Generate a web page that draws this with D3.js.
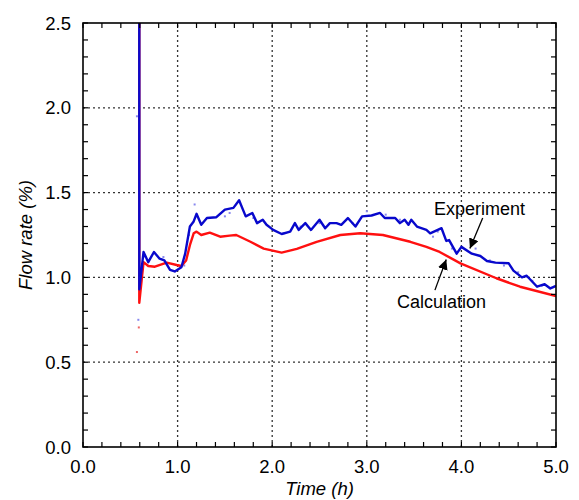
<!DOCTYPE html>
<html>
<head>
<meta charset="utf-8">
<script src="https://cdn.jsdelivr.net/npm/d3@7"></script>
<style>
  body { margin: 0; background: #fff; }
  svg { display: block; }
  text { font-family: "Liberation Sans", Arial, sans-serif; fill: #000; }
</style>
</head>
<body>
<div class="chart"></div>
<script>
// #region Data
// time (h) and flow rate (%)
let expTime = [0.595, 0.595, 0.64, 0.69, 0.75, 0.81, 0.86, 0.92, 0.97, 1.04, 1.08, 1.13, 1.17, 1.20, 1.25, 1.31, 1.41, 1.50, 1.59, 1.65,
    1.72, 1.79, 1.84, 1.90, 1.94, 2.01, 2.10, 2.19, 2.24, 2.28, 2.35, 2.41, 2.50, 2.56, 2.61, 2.68, 2.73, 2.80, 2.88, 2.95,
    3.05, 3.14, 3.19, 3.30, 3.35, 3.40, 3.44, 3.47, 3.53, 3.63, 3.67, 3.79, 3.84, 3.87, 3.95, 4.00, 4.11, 4.20, 4.27, 4.36,
    4.50, 4.55, 4.64, 4.69, 4.80, 4.88, 4.94, 5.00];
let expRate = [2.6, 0.93, 1.15, 1.09, 1.15, 1.11, 1.10, 1.045, 1.035, 1.06, 1.14, 1.30, 1.33, 1.375, 1.31, 1.35, 1.355, 1.40, 1.41, 1.455,
    1.36, 1.38, 1.32, 1.34, 1.31, 1.28, 1.256, 1.27, 1.32, 1.28, 1.32, 1.28, 1.34, 1.29, 1.32, 1.32, 1.31, 1.35, 1.30, 1.36,
    1.365, 1.38, 1.35, 1.35, 1.32, 1.34, 1.31, 1.34, 1.30, 1.28, 1.26, 1.29, 1.215, 1.22, 1.14, 1.18, 1.14, 1.126, 1.097, 1.087,
    1.083, 1.04, 1.00, 1.01, 0.945, 0.96, 0.935, 0.95];

let calcTime = [0.595, 0.595, 0.64, 0.69, 0.76, 0.885, 0.99, 1.04, 1.09, 1.13, 1.17, 1.20, 1.25, 1.34, 1.45, 1.55, 1.62, 1.77, 1.91, 2.10,
    2.26, 2.47, 2.72, 2.93, 3.17, 3.46, 3.63, 3.77, 3.99, 4.37, 4.62, 5.00];
let calcRate = [2.6, 0.85, 1.09, 1.067, 1.063, 1.087, 1.073, 1.067, 1.10, 1.19, 1.26, 1.27, 1.25, 1.264, 1.24, 1.246, 1.25, 1.21, 1.17, 1.146,
    1.168, 1.21, 1.25, 1.26, 1.25, 1.21, 1.18, 1.15, 1.083, 0.995, 0.945, 0.89];

// raw measured points scattered round the experiment line
let rawTime = [0.57, 0.585, 0.66, 0.85, 1.07, 1.12, 1.18, 1.50, 1.55, 1.80, 2.12, 2.30, 2.50, 2.85, 3.00, 3.20, 3.35, 3.70, 3.75, 3.90, 4.15, 4.30, 4.45, 4.60, 4.75, 4.85];
let rawRate = [1.95, 0.75, 1.12, 1.12, 1.07, 1.25, 1.43, 1.36, 1.38, 1.35, 1.26, 1.30, 1.32, 1.32, 1.39, 1.37, 1.34, 1.24, 1.27, 1.17, 1.17, 1.10, 1.07, 1.03, 0.98, 0.95];
let rawCalcTime = [0.59, 0.57];
let rawCalcRate = [0.705, 0.56];

let xTicks = [0, 1, 2, 3, 4, 5];
let yTicks = [0, 0.5, 1, 1.5, 2, 2.5];
// #endregion

let width = 579, height = 500;
let margin = { left: 83, top: 23, right: 23, bottom: 53 };
let plotW = width - margin.left - margin.right;
let plotH = height - margin.top - margin.bottom;

let svg = d3.select(".chart").append("svg")
    .attr("width", width)
    .attr("height", height);

let xScale = d3.scaleLinear().domain([0, 5]).range([margin.left, margin.left + plotW]);
let yScale = d3.scaleLinear().domain([0, 2.5]).range([margin.top + plotH, margin.top]);

// #region Grid
let gGrid = svg.append("g").attr("class", "grid");
gGrid.selectAll(".gx")
    .data(xTicks.slice(1, -1))
    .enter().append("line")
    .attr("x1", d => xScale(d)).attr("x2", d => xScale(d))
    .attr("y1", yScale(0)).attr("y2", yScale(2.5))
    .attr("stroke", "#333").attr("stroke-width", 1.3).attr("stroke-dasharray", "2,3");
gGrid.selectAll(".gy")
    .data(yTicks.slice(1, -1))
    .enter().append("line")
    .attr("y1", d => yScale(d)).attr("y2", d => yScale(d))
    .attr("x1", xScale(0)).attr("x2", xScale(5))
    .attr("stroke", "#333").attr("stroke-width", 1.3).attr("stroke-dasharray", "2,3");
// #endregion

// #region Lines
svg.append("clipPath").attr("id", "plotClip")
    .append("rect")
    .attr("x", margin.left).attr("y", margin.top)
    .attr("width", plotW).attr("height", plotH);

let gPlot = svg.append("g").attr("clip-path", "url(#plotClip)");
let line = d3.line().x(d => xScale(d[0])).y(d => yScale(d[1]));

gPlot.selectAll(".raw")
    .data(d3.zip(rawTime, rawRate))
    .enter().append("rect")
    .attr("x", d => xScale(d[0]) - 1).attr("y", d => yScale(d[1]) - 1)
    .attr("width", 2).attr("height", 2)
    .attr("fill", "#8888ee");
gPlot.selectAll(".rawc")
    .data(d3.zip(rawCalcTime, rawCalcRate))
    .enter().append("rect")
    .attr("x", d => xScale(d[0]) - 1).attr("y", d => yScale(d[1]) - 1)
    .attr("width", 2).attr("height", 2)
    .attr("fill", "#ee6666");

gPlot.append("path")
    .datum(d3.zip(calcTime, calcRate))
    .attr("d", line)
    .attr("fill", "none").attr("stroke", "#ff1010").attr("stroke-width", 2.4)
    .attr("stroke-linejoin", "round");
gPlot.append("path")
    .datum(d3.zip(expTime, expRate))
    .attr("d", line)
    .attr("fill", "none").attr("stroke", "#0808cc").attr("stroke-width", 2.4)
    .attr("stroke-linejoin", "round");
// #endregion

// #region Frame and ticks
let minorX = d3.range(0, 5.001, 0.2);
let minorY = d3.range(0, 2.501, 0.1);
let gTicks = svg.append("g").attr("class", "ticks").attr("stroke", "#000").attr("stroke-width", 1.2);
minorX.forEach(v => {
    gTicks.append("line").attr("x1", xScale(v)).attr("x2", xScale(v)).attr("y1", yScale(0)).attr("y2", yScale(0) - 5);
    gTicks.append("line").attr("x1", xScale(v)).attr("x2", xScale(v)).attr("y1", yScale(2.5)).attr("y2", yScale(2.5) + 5);
});
minorY.forEach(v => {
    gTicks.append("line").attr("y1", yScale(v)).attr("y2", yScale(v)).attr("x1", xScale(0)).attr("x2", xScale(0) + 5);
    gTicks.append("line").attr("y1", yScale(v)).attr("y2", yScale(v)).attr("x1", xScale(5)).attr("x2", xScale(5) - 5);
});
svg.append("rect")
    .attr("x", margin.left).attr("y", margin.top)
    .attr("width", plotW).attr("height", plotH)
    .attr("fill", "none").attr("stroke", "#000").attr("stroke-width", 1.6);

svg.append("g").selectAll("text")
    .data(xTicks).enter().append("text")
    .attr("x", d => xScale(d)).attr("y", yScale(0) + 26)
    .attr("text-anchor", "middle").attr("font-size", 18.5)
    .text(d => d.toFixed(1));
svg.append("g").selectAll("text")
    .data(yTicks).enter().append("text")
    .attr("x", xScale(0) - 12).attr("y", d => yScale(d) + 6.5)
    .attr("text-anchor", "end").attr("font-size", 18.5)
    .text(d => d.toFixed(1));
// #endregion

// #region Axis titles
svg.append("text")
    .attr("x", margin.left + plotW / 2).attr("y", 495)
    .attr("text-anchor", "middle").attr("font-size", 18.5).attr("font-style", "italic")
    .text("Time (h)");
svg.append("text")
    .attr("transform", "translate(32," + (margin.top + plotH / 2) + ") rotate(-90)")
    .attr("text-anchor", "middle").attr("font-size", 18.5).attr("font-style", "italic")
    .text("Flow rate (%)");
// #endregion

// #region Annotations
svg.append("defs").append("marker")
    .attr("id", "arrowHead")
    .attr("viewBox", "0 0 10 10").attr("refX", 10).attr("refY", 5)
    .attr("markerWidth", 10).attr("markerHeight", 10).attr("markerUnits", "userSpaceOnUse")
    .attr("orient", "auto")
    .append("path").attr("d", "M0,0 L10,5 L0,10 z").attr("fill", "#000");

svg.append("text").attr("x", xScale(3.7) + 1).attr("y", yScale(1.37)).attr("font-size", 18).text("Experiment");
svg.append("text").attr("x", xScale(3.32)).attr("y", yScale(0.82)).attr("font-size", 18).text("Calculation");

svg.append("line")
    .attr("x1", xScale(4.225)).attr("y1", yScale(1.35))
    .attr("x2", xScale(4.09)).attr("y2", yScale(1.17))
    .attr("stroke", "#000").attr("stroke-width", 1.3).attr("marker-end", "url(#arrowHead)");
svg.append("line")
    .attr("x1", xScale(3.72)).attr("y1", yScale(0.925))
    .attr("x2", xScale(3.84)).attr("y2", yScale(1.105))
    .attr("stroke", "#000").attr("stroke-width", 1.3).attr("marker-end", "url(#arrowHead)");
// #endregion
</script>
</body>
</html>
